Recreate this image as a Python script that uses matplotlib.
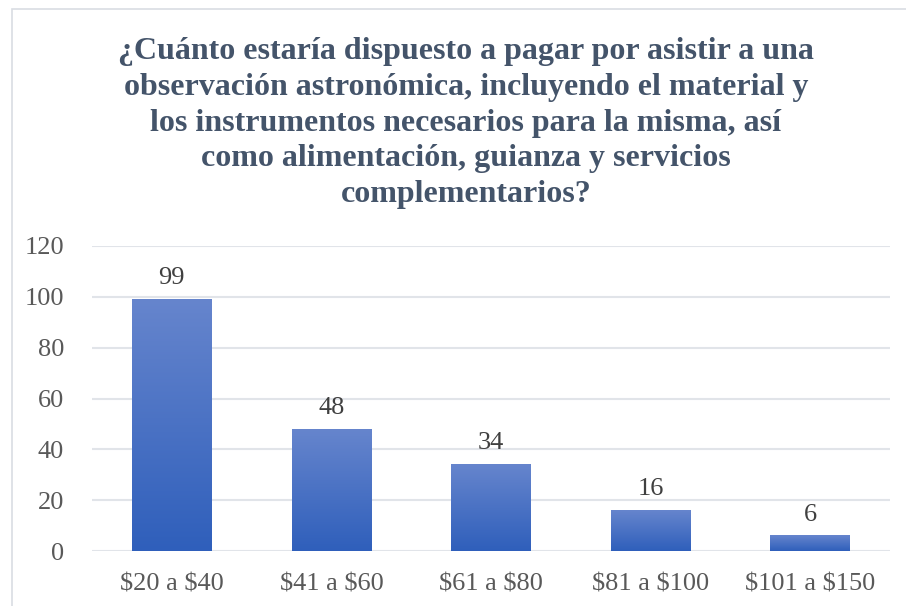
import numpy as np
import matplotlib
matplotlib.use("Agg")
import matplotlib.pyplot as plt
from matplotlib.colors import LinearSegmentedColormap
from matplotlib.patches import Rectangle

categories = [r"\$20 a \$40", r"\$41 a \$60", r"\$61 a \$80", r"\$81 a \$100", r"\$101 a \$150"]
counts = [99, 48, 34, 16, 6]
yticks = [0, 20, 40, 60, 80, 100, 120]

TITLE = ("¿Cuánto estaría dispuesto a pagar por asistir a una\n"
         "observación astronómica, incluyendo el material y\n"
         "los instrumentos necesarios para la misma, así\n"
         "como alimentación, guianza y servicios\n"
         "complementarios?")

plt.rcParams["font.family"] = ["Liberation Serif", "DejaVu Serif"]

fig = plt.figure(figsize=(9.06, 6.06), dpi=100)
fig.patch.set_facecolor("white")

# chart border (cropped at right and bottom in the source)
fig.patches.append(Rectangle((12 / 906, -0.05), 1.2, 1 - 9 / 606 + 0.05,
                             transform=fig.transFigure, fill=False,
                             edgecolor="#d9dde3", linewidth=1.2))

ax = fig.add_axes([92 / 906, 55 / 606, 798 / 906, 305 / 606])
x = np.arange(len(categories))
bars = ax.bar(x, counts, width=0.5, color="none", edgecolor="none", zorder=2)

cmap = LinearSegmentedColormap.from_list("bar", ["#2f5fbb", "#6685cd"])
grad = np.linspace(0, 1, 256).reshape(-1, 1)
for b in bars:
    x0, y0 = b.get_x(), b.get_y()
    ax.imshow(grad, cmap=cmap, origin="lower", aspect="auto",
              extent=(x0, x0 + b.get_width(), y0, y0 + b.get_height()), zorder=2)

for xi, v in zip(x, counts):
    ax.text(xi, v + 4, str(v), ha="center", va="bottom", fontsize=19, color="#404040")

ax.set_xlim(-0.5, len(categories) - 0.5)
ax.set_ylim(0, 120)
ax.set_yticks(yticks)
ax.set_xticks(x)
ax.set_xticklabels(categories)
ax.tick_params(axis="both", length=0, labelsize=19, labelcolor="#595959")
ax.tick_params(axis="y", pad=20)
ax.tick_params(axis="x", pad=16)
ax.grid(axis="y", color="#e1e4e9", linewidth=1.5, zorder=0)
ax.set_axisbelow(True)
for s in ax.spines.values():
    s.set_visible(False)

fig.text(466 / 906, 1 - 37 / 606, TITLE, ha="center", va="top",
         fontsize=23, fontweight="bold", color="#44546a", linespacing=1.31)

fig.savefig("out.png", dpi=100)
